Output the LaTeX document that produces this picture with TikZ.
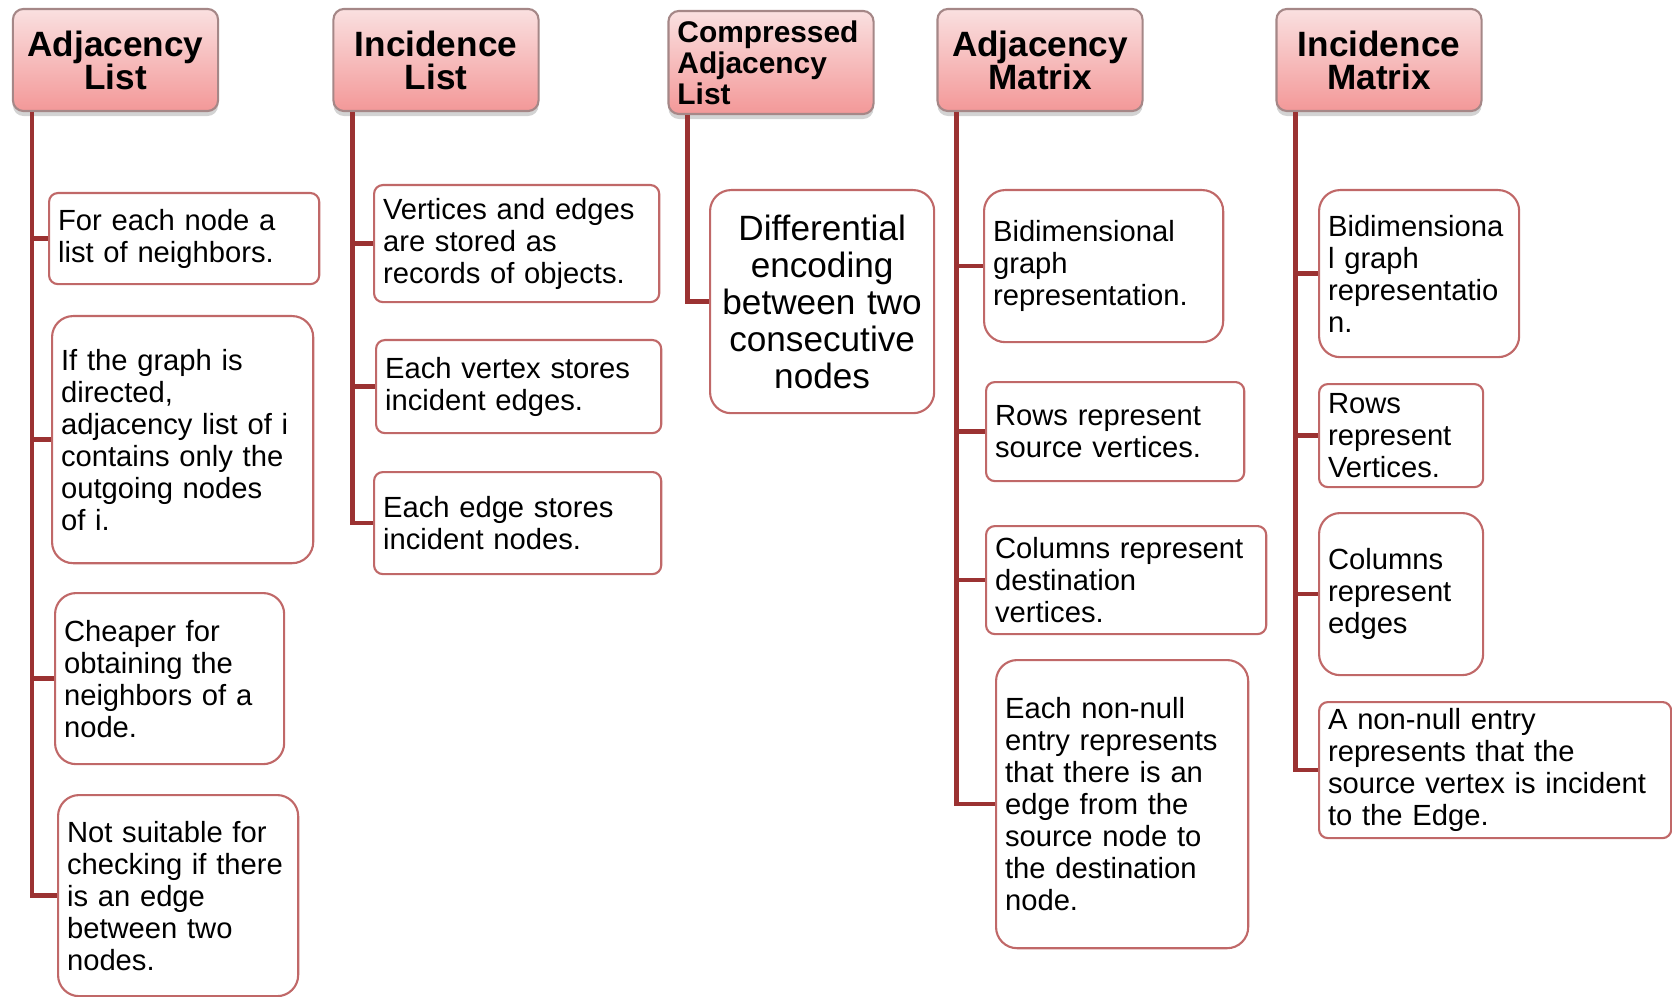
\documentclass[tikz,border=0pt]{standalone}
\usepackage{fontspec}
\setmainfont{Liberation Sans}
\usetikzlibrary{shadows}

\definecolor{headtop}{RGB}{250,224,224}
\definecolor{headbot}{RGB}{243,152,152}
\definecolor{headline}{RGB}{165,135,135}
\definecolor{leafline}{RGB}{192,104,104}
\definecolor{trunkred}{RGB}{155,50,50}

\tikzset{
  head/.style={draw=headline, line width=0.6pt, rounded corners=3pt,
    top color=headtop, bottom color=headbot,
    drop shadow={opacity=0.35, shadow xshift=0pt, shadow yshift=-0.05cm},
    minimum width=2.05cm, minimum height=1.02cm, inner sep=0pt, align=center,
    font=\bfseries\fontsize{10}{9.4}\selectfont},
  leaf/.style={draw=leafline, line width=0.6pt, fill=white, rounded corners=2.5pt,
    anchor=north west, inner xsep=0.09cm, inner ysep=0pt, align=left,
    font=\fontsize{8.3}{9.1}\selectfont},
  bigleaf/.style={leaf, rounded corners=6pt},
  trunk/.style={trunkred, line width=1.3pt},
}

\begin{document}
\begin{tikzpicture}[x=0.01cm, y=-0.01cm]
\useasboundingbox (0,0) rectangle (1672,997);

\node[head] (h1) at (115.5,60) {Adjacency\\List};
\node[head] (h2) at (436,60) {Incidence\\List};
\node[head, minimum height=1.03cm, align=left, text width=1.87cm,
  font=\bfseries\fontsize{8.5}{8.8}\selectfont] (h3) at (771,62.5) {Compressed\\Adjacency\\List};
\node[head] (h4) at (1040,60) {Adjacency\\Matrix};
\node[head] (h5) at (1379,60) {Incidence\\Matrix};

\node[leaf, text width=2.52cm, minimum height=0.91cm] (a1) at (48,192) {For each node a\\list of neighbors.};
\node[bigleaf, text width=2.43cm, minimum height=2.47cm] (a2) at (51,315) {If the graph is\\directed,\\adjacency list of i\\contains only the\\outgoing nodes\\of i.};
\node[bigleaf, text width=2.11cm, minimum height=1.71cm] (a3) at (54,592) {Cheaper for\\obtaining the\\neighbors of a\\node.};
\node[bigleaf, text width=2.22cm, minimum height=2.01cm] (a4) at (57,794) {Not suitable for\\checking if there\\is an edge\\between two\\nodes.};

\node[leaf, text width=2.67cm, minimum height=1.17cm] (b1) at (373,184) {Vertices and edges\\are stored as\\records of objects.};
\node[leaf, text width=2.67cm, minimum height=0.93cm] (b2) at (375,339) {Each vertex stores\\incident edges.};
\node[leaf, text width=2.69cm, minimum height=1.02cm] (b3) at (373,471) {Each edge stores\\incident nodes.};

\node[bigleaf, text width=2.06cm, minimum height=2.23cm, align=center,
  font=\fontsize{10}{10.5}\selectfont] (c1) at (709,189) {Differential\\encoding\\between two\\consecutive\\nodes};

\node[bigleaf, text width=2.21cm, minimum height=1.52cm] (d1) at (983,189) {Bidimensional\\graph\\representation.};
\node[leaf, text width=2.40cm, minimum height=0.99cm] (d2) at (985,381) {Rows represent\\source vertices.};
\node[leaf, text width=2.62cm, minimum height=1.08cm] (d3) at (985,525) {Columns represent\\destination\\vertices.};
\node[bigleaf, text width=2.34cm, minimum height=2.88cm] (d4) at (995,659) {Each non-null\\entry represents\\that there is an\\edge from the\\source node to\\the destination\\node.};

\node[bigleaf, text width=1.82cm, minimum height=1.67cm] (e1) at (1318,189) {Bidimensiona\\l graph\\representatio\\n.};
\node[leaf, text width=1.46cm, minimum height=1.03cm] (e2) at (1318,383) {Rows\\represent\\Vertices.};
\node[bigleaf, text width=1.46cm, minimum height=1.62cm] (e3) at (1318,512) {Columns\\represent\\edges};
\node[leaf, text width=3.34cm, minimum height=1.36cm] (e4) at (1318,701) {A non-null entry\\represents that the\\source vertex is incident\\to the Edge.};

\foreach \h in {h1,h2,h3,h4,h5} \coordinate (t\h) at ([xshift=0.2cm]\h.south west);

\draw[trunk] (th1) |- (a4.west);
\foreach \n in {a1,a2,a3} \draw[trunk] (th1 |- \n.west) -- (\n.west);
\draw[trunk] (th2) |- (b3.west);
\foreach \n in {b1,b2} \draw[trunk] (th2 |- \n.west) -- (\n.west);
\draw[trunk] (th3) |- (c1.west);
\draw[trunk] (th4) |- (d4.west);
\foreach \n in {d1,d2,d3} \draw[trunk] (th4 |- \n.west) -- (\n.west);
\draw[trunk] (th5) |- (e4.west);
\foreach \n in {e1,e2,e3} \draw[trunk] (th5 |- \n.west) -- (\n.west);

\end{tikzpicture}
\end{document}
